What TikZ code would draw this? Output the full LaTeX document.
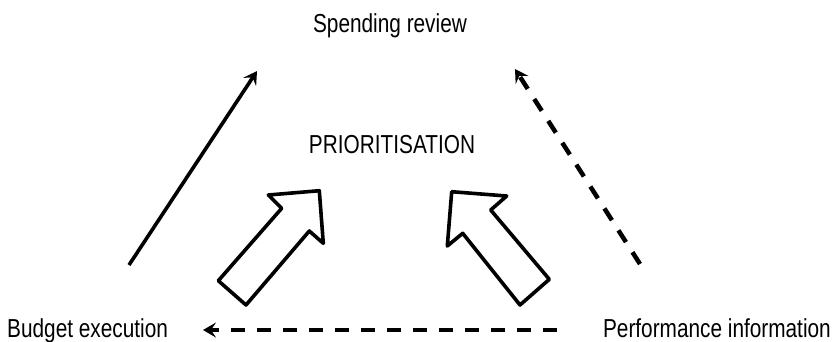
\documentclass[tikz,border=0pt]{standalone}
\usepackage{fontspec}
\setmainfont[FakeStretch=0.8]{Liberation Sans}
\usetikzlibrary{arrows.meta}
\begin{document}
\begin{tikzpicture}[x=1pt,y=-1pt,
  lbl/.style={inner sep=0pt, font=\fontsize{26}{29}\selectfont, anchor=base},
  solidarrow/.style={line width=3.6pt, -{Stealth[length=13pt,width=15pt,inset=5pt]}},
  dasharrow/.style={line width=4.5pt, dash pattern=on 14pt off 12pt, -{Stealth[length=13pt,width=15pt,inset=5pt]}},
  blockarrow/.style={line width=3.6pt, line join=round, fill=white}]
\useasboundingbox (0,0) rectangle (834,341);
% labels
\node[lbl] (spend) at (390,32) {Spending review};
\node[lbl] (prio) at (392,153) {PRIORITISATION};
\node[lbl,anchor=base west] (budget) at (7,337) {Budget execution};
\node[lbl,anchor=base east] (perf) at (831,337) {Performance information};
% connector end points
\coordinate (s1) at (129,265);
\coordinate (s2) at (257,71);
\coordinate (d1) at (640,264);
\coordinate (d2) at (515,69);
\coordinate (b1) at (557,330);
\coordinate (b2) at (203,330);
\draw[solidarrow] (s1) -- (s2);
\draw[dasharrow] (d1) -- (d2);
\draw[dasharrow] (b1) -- (b2);
% block arrows
\draw[blockarrow] (218.3,280.7) -- (281.7,208.3) -- (268.3,195) -- (319.3,190.7)
  -- (323.3,243.3) -- (309.3,231) -- (246,305) -- cycle;
\draw[blockarrow] (549.3,279.3) -- (490.7,210) -- (506.7,196) -- (451.7,191.7)
  -- (447.3,246) -- (462.7,233.3) -- (520,305) -- cycle;
\end{tikzpicture}
\end{document}
